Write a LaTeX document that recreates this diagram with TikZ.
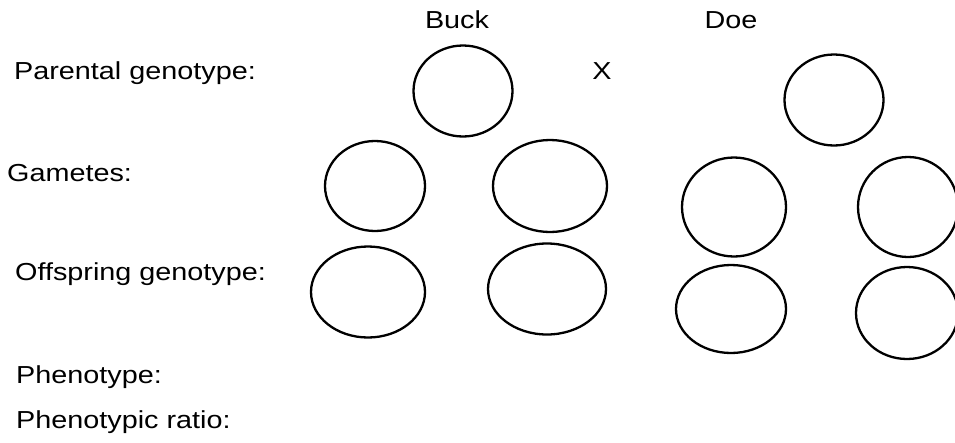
\documentclass[tikz,border=0pt]{standalone}
\usepackage{fontspec}
\setmainfont{Liberation Sans}
\usetikzlibrary{shapes.geometric}
% labels are set slightly wide
\newcommand{\widetext}[1]{\scalebox{1.17}[1]{#1}}
\begin{document}
\begin{tikzpicture}[x=1pt,y=-1pt,
  lbl/.style={inner sep=0pt,font=\fontsize{24.6}{30}\selectfont},
  blank/.style={ellipse,draw=black,line width=2.3pt,inner sep=0pt,fill=none}]
\useasboundingbox (0,0) rectangle (955,442);
\clip (0,0) rectangle (955,442);
% row labels
\node[lbl,anchor=base west] (lpar) at (14,79) {\widetext{Parental genotype:}};
\node[lbl,anchor=base west] (lgam) at (7,181) {\widetext{Gametes:}};
\node[lbl,anchor=base west] (loff) at (15,280) {\widetext{Offspring genotype:}};
\node[lbl,anchor=base west] (lphe) at (16,383) {\widetext{Phenotype:}};
\node[lbl,anchor=base west] (lrat) at (16,428) {\widetext{Phenotypic ratio:}};
% column headings
\node[lbl,anchor=base] (buck) at (457,28) {\widetext{Buck}};
\node[lbl,anchor=base] (doe) at (731,28) {\widetext{Doe}};
\node[lbl,anchor=base] (cross) at (602,79) {\widetext{X}};
% parents
\node[blank,minimum width=99pt,minimum height=91pt] (pbuck) at (463,91) {};
\node[blank,minimum width=99pt,minimum height=91pt] (pdoe) at (834,100) {};
% gametes
\node[blank,minimum width=100pt,minimum height=90pt] (g1) at (375,186) {};
\node[blank,minimum width=114pt,minimum height=92pt] (g2) at (550,186) {};
\node[blank,minimum width=104pt,minimum height=99pt] (g3) at (734,207) {};
\node[blank,minimum width=100pt,minimum height=100pt] (g4) at (908,207) {};
% offspring
\node[blank,minimum width=114pt,minimum height=91pt] (o1) at (368,292) {};
\node[blank,minimum width=118pt,minimum height=91pt] (o2) at (547,289) {};
\node[blank,minimum width=110pt,minimum height=88pt] (o3) at (731,309) {};
\node[blank,minimum width=102pt,minimum height=92pt] (o4) at (907,313) {};
\end{tikzpicture}
\end{document}
